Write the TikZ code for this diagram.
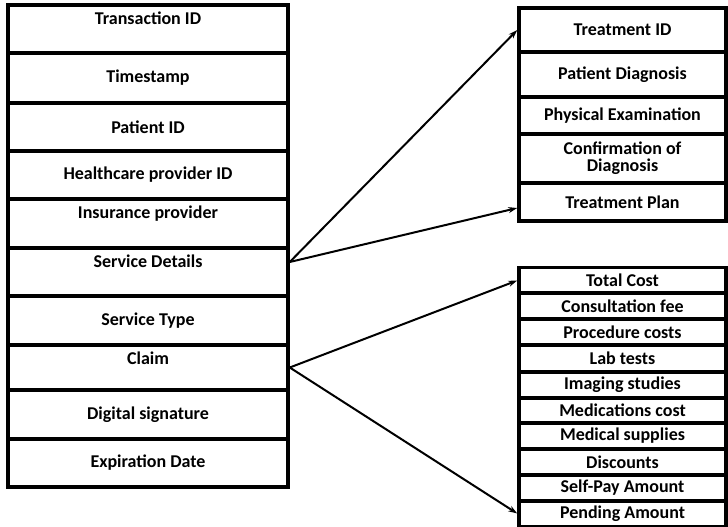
\documentclass[tikz,border=0pt]{standalone}
\usepackage{fontspec}
\setmainfont{Carlito}
\usetikzlibrary{arrows.meta}

\tikzset{
  cell/.style={draw, line width=3.5pt, rectangle, inner sep=0pt,
    font=\fontsize{18}{17}\selectfont\bfseries, align=center},
  leftcell/.style={cell, minimum width=280pt},
  treatcell/.style={cell, minimum width=207pt},
  costcell/.style={cell, minimum width=207pt, minimum height=26pt},
  toptext/.style={font=\fontsize{18}{17}\selectfont\bfseries, anchor=north, inner sep=0pt, yshift=-8pt},
  link/.style={line width=2pt, -{Stealth[length=9pt,width=6pt]}}
}

\begin{document}
\begin{tikzpicture}[x=1pt,y=-1pt]
        % Fix the page size
        \useasboundingbox (0,0) rectangle (728,527);

        % Left column: the transaction record
        \node[leftcell, minimum height=48pt] (txid) at (148,29) {};
        \node[toptext] at (txid.north) {Transaction ID};
        \node[leftcell, minimum height=50pt] (tstamp) at (148,78) {Timestamp};
        \node[leftcell, minimum height=48pt] (patid) at (148,127) {Patient ID};
        \node[leftcell, minimum height=48pt] (hcpid) at (148,175) {Healthcare provider ID};
        \node[leftcell, minimum height=49pt] (insur) at (148,223.5) {};
        \node[toptext] at (insur.north) {Insurance provider};
        \node[leftcell, minimum height=48pt] (svc) at (148,272) {};
        \node[toptext] at (svc.north) {Service Details};
        \node[leftcell, minimum height=49pt] (svctype) at (148,320.5) {Service Type};
        \node[leftcell, minimum height=45pt] (claim) at (148,367.5) {};
        \node[toptext] at (claim.north) {Claim};
        \node[leftcell, minimum height=49pt] (dsig) at (148,414.5) {Digital signature};
        \node[leftcell, minimum height=48pt] (expdate) at (148,463) {Expiration Date};

        % Right top: the treatment record
        \node[treatcell, minimum height=44pt] (trid) at (622.5,30) {Treatment ID};
        \node[treatcell, minimum height=45pt] (diag) at (622.5,74.5) {Patient Diagnosis};
        \node[treatcell, minimum height=37pt] (exam) at (622.5,115.5) {Physical Examination};
        \node[treatcell, minimum height=49pt] (confirm) at (622.5,158.5) {Confirmation of\\Diagnosis};
        \node[treatcell, minimum height=38pt] (plan) at (622.5,202) {Treatment Plan};

        % Right bottom: the cost record
        \node[costcell] (total) at (622.5,280.5) {Total Cost};
        \node[costcell] (consult) at (622.5,306) {Consultation fee};
        \node[costcell] (proc) at (622.5,332) {Procedure costs};
        \node[costcell] (lab) at (622.5,358.5) {Lab tests};
        \node[costcell] (imaging) at (622.5,385) {Imaging studies};
        \node[costcell] (meds) at (622.5,410.5) {Medications cost};
        \node[costcell] (supplies) at (622.5,436) {Medical supplies};
        \node[costcell] (disc) at (622.5,462) {Discounts};
        \node[costcell] (selfpay) at (622.5,488) {Self-Pay Amount};
        \node[costcell] (pending) at (622.5,513.5) {Pending Amount};

        % Links between the records
        \draw[link] ([yshift=10pt]svc.east) -- (trid.west);
        \draw[link] ([yshift=10pt]svc.east) -- ([yshift=-6pt]plan.west);
        \draw[link] (claim.east) -- (total.west);
        \draw[link] (claim.east) -- (pending.west);
    \end{tikzpicture}
\end{document}
